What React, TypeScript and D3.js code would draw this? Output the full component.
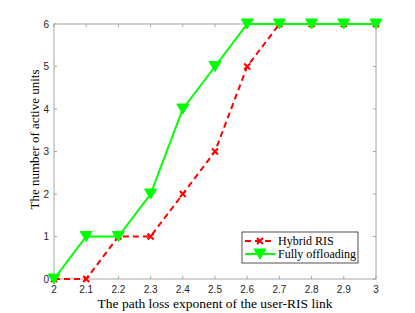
import React from 'react';
import * as d3 from 'd3';

const exponents = [2, 2.1, 2.2, 2.3, 2.4, 2.5, 2.6, 2.7, 2.8, 2.9, 3];
const hybridRIS = [0, 0, 1, 1, 2, 3, 5, 6, 6, 6, 6];
const fullyOffloading = [0, 1, 1, 2, 4, 5, 6, 6, 6, 6, 6];
const yTicks = [0, 1, 2, 3, 4, 5, 6];

const W = 415, H = 313;
const margin = { top: 24, right: 39, bottom: 34, left: 54 };

export default function App() {
  const w = W - margin.left - margin.right;
  const h = H - margin.top - margin.bottom;
  const x = d3.scaleLinear().domain([2, 3]).range([0, w]);
  const y = d3.scaleLinear().domain([0, 6]).range([h, 0]);
  const line = d3.line<number>().x((d, i) => x(exponents[i])).y(d => y(d));
  const axisColor = '#a6a6a6';
  const tri = (cx: number, cy: number) => `M${cx - 6},${cy - 5}L${cx + 6},${cy - 5}L${cx},${cy + 5}Z`;

  return (
    <svg width={W} height={H} style={{ position: 'absolute', left: 0, top: 0, background: '#fff' }}>
      <g transform={`translate(${margin.left},${margin.top})`}>
        <rect x={0} y={0} width={w} height={h} fill="#fff" />
        {/* ticks */}
        {exponents.map(t => (
          <g key={'x' + t}>
            <line x1={x(t)} x2={x(t)} y1={h} y2={h - 3} stroke={axisColor} />
            <line x1={x(t)} x2={x(t)} y1={0} y2={3} stroke={axisColor} />
            <text x={x(t)} y={h + 14} textAnchor="middle" fontSize={10} fontFamily="Liberation Sans, Arial" fill="#262626">{t}</text>
          </g>
        ))}
        {yTicks.map(t => (
          <g key={'y' + t}>
            <line x1={0} x2={3} y1={y(t)} y2={y(t)} stroke={axisColor} />
            <line x1={w} x2={w - 3} y1={y(t)} y2={y(t)} stroke={axisColor} />
            <text x={-5} y={y(t) + 3.5} textAnchor="end" fontSize={10} fontFamily="Liberation Sans, Arial" fill="#262626">{t}</text>
          </g>
        ))}
        <rect x={0} y={0} width={w} height={h} fill="none" stroke={axisColor} strokeWidth={1} />

        {/* Hybrid RIS */}
        <path d={line(hybridRIS) || ''} fill="none" stroke="#ff0000" strokeWidth={2} strokeDasharray="6,4" />
        {hybridRIS.map((v, i) => (
          <path key={'h' + i} d={`M${x(exponents[i]) - 3},${y(v) - 3}L${x(exponents[i]) + 3},${y(v) + 3}M${x(exponents[i]) - 3},${y(v) + 3}L${x(exponents[i]) + 3},${y(v) - 3}`} stroke="#ff0000" strokeWidth={2} />
        ))}

        {/* Fully offloading */}
        <path d={line(fullyOffloading) || ''} fill="none" stroke="#00ff00" strokeWidth={2} />
        {fullyOffloading.map((v, i) => (
          <path key={'f' + i} d={tri(x(exponents[i]), y(v))} fill="#00ff00" stroke="#00ff00" />
        ))}

        {/* legend */}
        <g transform="translate(188,208)">
          <rect x={0} y={0} width={116} height={31} fill="#fff" stroke="#262626" strokeWidth={0.8} />
          <line x1={3} x2={33} y1={9} y2={9} stroke="#ff0000" strokeWidth={2} strokeDasharray="6,4" />
          <path d="M15,6L21,12M15,12L21,6" stroke="#ff0000" strokeWidth={2} />
          <text x={36} y={13} fontSize={12} fontFamily="Liberation Serif, Times New Roman" fill="#000">Hybrid RIS</text>
          <line x1={3} x2={33} y1={22} y2={22} stroke="#00ff00" strokeWidth={2} />
          <path d={tri(18, 22)} fill="#00ff00" stroke="#00ff00" />
          <text x={36} y={26} fontSize={12} fontFamily="Liberation Serif, Times New Roman" fill="#000">Fully offloading</text>
        </g>

        <text x={w / 2} y={h + 29} textAnchor="middle" fontSize={13.5} fontFamily="Liberation Serif, Times New Roman" fill="#000">The path loss exponent of the user-RIS link</text>
        <text transform={`translate(-15,${h / 2 - 12}) rotate(-90)`} textAnchor="middle" fontSize={13} fontFamily="Liberation Serif, Times New Roman" fill="#000">The number of active units</text>
      </g>
    </svg>
  );
}
